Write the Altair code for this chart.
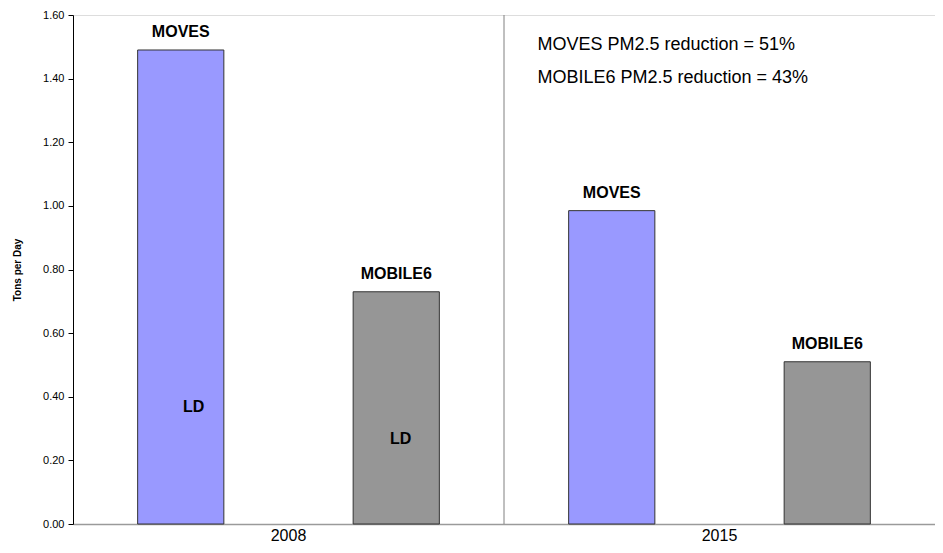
import altair as alt
import pandas as pd

# ---- data ----
years = ["2008", "2008", "2015", "2015"]
models = ["MOVES", "MOBILE6", "MOVES", "MOBILE6"]
tons = [1.49, 0.73, 0.985, 0.51]

year_labels = ["2008", "2015"]

ld_text = ["LD", "LD"]
ld_slot = [0.56, 1.52]
ld_value = [0.368, 0.267]

notes = ["MOVES PM2.5 reduction = 51%", "MOBILE6 PM2.5 reduction = 43%"]
note_slot = [2.155, 2.155]
note_value = [1.505, 1.402]

FONT = "Liberation Sans, Arial, Helvetica, sans-serif"
W, H = 862, 509

# slot index: each bar occupies one slot of width 1; bars are 0.4 wide, centred
slot = [i + 0.5 for i in range(len(tons))]
bars = pd.DataFrame({
    "year": years, "model": models, "tons": tons,
    "x0": [s - 0.2 for s in slot], "x1": [s + 0.2 for s in slot], "xc": slot,
})
years_df = pd.DataFrame({"year": year_labels, "xc": [1.0 + 2 * i for i in range(len(year_labels))]})
ld_df = pd.DataFrame({"t": ld_text, "x": ld_slot, "y": ld_value})
notes_df = pd.DataFrame({"t": notes, "x": note_slot, "y": note_value})
div_df = pd.DataFrame({"x": [2.0], "y0": [0.0], "y1": [1.6]})

xs = alt.Scale(domain=[0, 4], nice=False, zero=False)
ys = alt.Scale(domain=[0, 1.6], nice=False)

base = alt.Chart(bars)

bar = base.mark_rect(stroke="#333333", strokeWidth=1).encode(
    x=alt.X("x0:Q", scale=xs, axis=alt.Axis(
        title=None, labels=False, ticks=False, grid=False,
        domainColor="#9a9a9a", domainWidth=1.5)),
    x2="x1:Q",
    y=alt.Y("tons:Q", scale=ys, axis=alt.Axis(
        title="Tons per Day", titleFont=FONT, titleFontSize=10, titleFontWeight="bold",
        titleColor="black", titlePadding=20,
        values=[0, 0.2, 0.4, 0.6, 0.8, 1.0, 1.2, 1.4, 1.6], format=".2f",
        labelFont=FONT, labelFontSize=11, labelColor="black", labelPadding=4,
        tickSize=5, tickColor="black", domainColor="black", grid=False)),
    y2=alt.datum(0),
    color=alt.Color("model:N", scale=alt.Scale(domain=["MOVES", "MOBILE6"],
                                              range=["#9999FF", "#969696"]), legend=None),
)

bar_labels = base.mark_text(font=FONT, fontSize=16, fontWeight="bold", baseline="alphabetic",
                            dy=-13, color="black").encode(
    x=alt.X("xc:Q", scale=xs), y=alt.Y("tons:Q", scale=ys), text="model:N")

divider = alt.Chart(div_df).mark_rule(color="#808080", strokeWidth=1).encode(
    x=alt.X("x:Q", scale=xs), y=alt.Y("y0:Q", scale=ys), y2="y1:Q")

year_text = alt.Chart(years_df).mark_text(font=FONT, fontSize=16, baseline="middle",
                                          color="black").encode(
    x=alt.X("xc:Q", scale=xs), y=alt.value(H + 12), text="year:N")

ld = alt.Chart(ld_df).mark_text(font=FONT, fontSize=16, fontWeight="bold",
                                baseline="middle", color="black").encode(
    x=alt.X("x:Q", scale=xs), y=alt.Y("y:Q", scale=ys), text="t:N")

note = alt.Chart(notes_df).mark_text(font=FONT, fontSize=18, align="left",
                                     baseline="middle", color="black").encode(
    x=alt.X("x:Q", scale=xs), y=alt.Y("y:Q", scale=ys), text="t:N")

chart = alt.layer(bar, divider, bar_labels, year_text, ld, note).properties(
    width=W, height=H,
    autosize=alt.AutoSizeParams(type="none"),
    padding={"left": 65, "top": 7, "right": 0, "bottom": 21},
).configure_view(stroke="#808080", strokeWidth=1).configure(background="white")

chart.save("out.html", embed_options={"renderer": "svg", "actions": False})
